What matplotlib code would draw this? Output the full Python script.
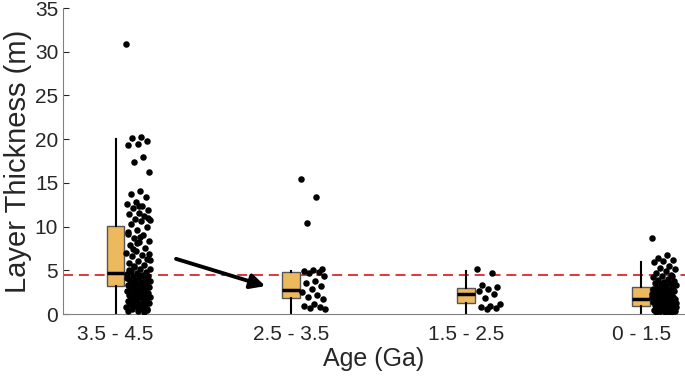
import matplotlib

matplotlib.use("Agg")
import matplotlib.pyplot as plt  # noqa: E402
import numpy as np  # noqa: E402

plt.rcParams["font.family"] = ["Liberation Sans", "DejaVu Sans"]

AGE_LABELS = ["3.5 - 4.5", "2.5 - 3.5", "1.5 - 2.5", "0 - 1.5"]
THRESHOLD = 4.5

# box stats: (whislo, q1, med, q3, whishi)
BOX_STATS = [
    (0.0, 3.2, 4.7, 10.1, 20.0),
    (0.15, 1.8, 2.7, 4.8, 4.95),
    (0.15, 1.22, 2.3, 2.95, 4.95),
    (0.15, 0.9, 1.75, 3.05, 5.9),
]

g1 = [30.9, 20.2, 20.1, 19.8, 19.5, 19.3, 18.0, 17.4, 16.2, 14.1, 13.7, 13.4,
      12.8, 12.6, 12.3, 12.1, 11.9, 11.6, 11.4, 11.2, 10.9, 10.8, 10.6, 10.3,
      9.9, 9.6, 9.2, 9.0, 8.7, 8.4, 8.2, 7.9, 7.6, 7.2, 7.0, 6.8, 6.6, 6.3,
      6.1, 5.8, 5.6, 5.4, 5.2, 5.1, 4.9, 4.8, 4.7, 4.6, 4.5, 4.4, 4.3, 4.2,
      4.0, 3.9, 3.8, 3.8, 3.7, 3.6, 3.5, 3.4, 3.3, 3.2, 3.2, 3.1, 3.0, 2.9,
      2.8, 2.7, 2.6, 2.6, 2.5, 2.4, 2.3, 2.2, 2.1, 2.0, 2.0, 1.9, 1.8, 1.7,
      1.6, 1.5, 1.4, 1.4, 1.3, 1.2, 1.1, 1.0, 0.9, 0.8, 0.7, 0.6, 0.5, 0.4,
      0.3, 0.2, 5.5, 6.9, 8.8, 3.6, 2.4, 1.7, 4.1, 0.9, 7.4, 11.0, 12.4,
      5.0, 4.4, 3.9, 6.2, 2.9, 1.2, 0.6, 8.1, 9.4]
g2 = [15.4, 13.4, 10.4, 5.1, 5.0, 4.9, 4.8, 4.7, 4.3, 3.8, 3.5, 3.2, 2.9,
      2.5, 2.2, 2.0, 1.7, 1.2, 0.9, 0.8, 0.7, 0.6]
g3 = [5.1, 4.7, 3.3, 3.1, 2.9, 2.6, 2.3, 1.8, 1.2, 0.9, 0.8, 0.7, 0.6]
g4 = [8.7, 6.7, 6.4, 6.2, 6.1, 5.9, 5.5, 5.3, 5.1, 4.9, 4.7, 4.5, 4.4, 4.2,
      4.0, 3.9, 3.8, 3.7, 3.6, 3.5, 3.4, 3.3, 3.2, 3.1, 3.0, 3.0, 2.9, 2.8,
      2.7, 2.6, 2.6, 2.5, 2.4, 2.3, 2.3, 2.2, 2.1, 2.0, 2.0, 1.9, 1.8, 1.8,
      1.7, 1.6, 1.6, 1.5, 1.4, 1.4, 1.3, 1.2, 1.2, 1.1, 1.0, 1.0, 0.9, 0.8,
      0.8, 0.7, 0.6, 0.6, 0.5, 0.4, 0.4, 0.3, 0.2, 0.2, 0.1, 2.4, 1.9, 1.1,
      0.7, 3.4, 2.7, 1.5, 0.5, 0.3, 1.3, 2.1, 0.9, 4.3, 3.6]
GROUPS = [g1, g2, g3, g4]

BOX_COLOR = "#EDB95E"

fig, ax = plt.subplots(figsize=(6.85, 3.82), dpi=100)
fig.subplots_adjust(left=0.092, right=1.0, bottom=0.178, top=0.979)

stats = [dict(whislo=s[0], q1=s[1], med=s[2], q3=s[3], whishi=s[4], fliers=[])
         for s in BOX_STATS]
pos = np.arange(1, len(GROUPS) + 1)
ax.bxp(stats, positions=pos, widths=0.1, patch_artist=True, showcaps=False,
       boxprops=dict(facecolor=BOX_COLOR, edgecolor="#555555", lw=1.0),
       medianprops=dict(color="black", lw=2.5),
       whiskerprops=dict(color="black", lw=1.5), zorder=2)

# deterministic jitter to the right of each box
for p, vals in zip(pos, GROUPS):
    idx = np.arange(len(vals))
    off = 0.06 + 0.14 * ((idx * 0.6180339887) % 1.0)
    ax.scatter(p + off, vals, s=22, color="black", zorder=3, linewidths=0)

ax.axhline(THRESHOLD, color="#D9141A", lw=1.2, ls=(0, (6, 3.5)), zorder=1)

ax.annotate("", xy=(1.87, 3.1), xytext=(1.33, 6.4),
            arrowprops=dict(arrowstyle="-|>", color="black", lw=2.8,
                            mutation_scale=22))

ax.set_xlim(0.70, 4.25)
ax.set_ylim(0, 35)
ax.set_yticks(range(0, 36, 5))
ax.set_xticks(pos)
ax.set_xticklabels(AGE_LABELS)
ax.tick_params(direction="in", labelsize=15, colors="#262626", length=4)
ax.tick_params(axis="x", length=0, pad=8)
for side in ["top", "right"]:
    ax.spines[side].set_visible(False)
for side in ["left", "bottom"]:
    ax.spines[side].set_color("#808080")
ax.set_xlabel("Age (Ga)", fontsize=18, color="#262626", labelpad=2)
ax.set_ylabel("Layer Thickness (m)", fontsize=21, color="#262626", labelpad=2)

fig.savefig("out.png", dpi=100)
